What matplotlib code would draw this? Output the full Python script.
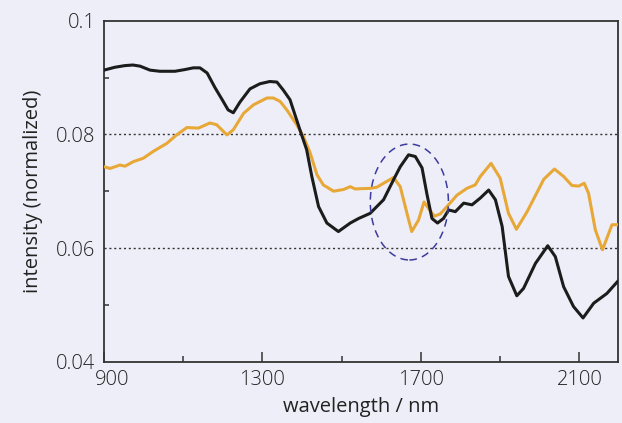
import numpy as np
import matplotlib
matplotlib.use('Agg')
import matplotlib.pyplot as plt
import matplotlib.transforms as mtransforms
from matplotlib.patches import Ellipse

# wavelength (nm) / normalized intensity
black_nm = [901, 928, 954, 974, 992, 1017, 1042, 1080, 1105, 1126, 1143, 1161,
            1181, 1199, 1214, 1227, 1244, 1269, 1294, 1319, 1337, 1353, 1370,
            1395, 1412, 1425, 1442, 1463, 1492, 1522, 1543, 1572, 1606, 1631,
            1648, 1669, 1686, 1703, 1715, 1728, 1742, 1757, 1770, 1787, 1808,
            1829, 1850, 1871, 1888, 1905, 1921, 1942, 1959, 1989, 2020, 2039,
            2060, 2085, 2109, 2136, 2169, 2196]
black_val = [0.0913, 0.0918, 0.0921, 0.0922, 0.0920, 0.0913, 0.0911, 0.0911,
             0.0914, 0.0917, 0.0917, 0.0908, 0.0882, 0.0861, 0.0843, 0.0838,
             0.0857, 0.0880, 0.0889, 0.0893, 0.0892, 0.0878, 0.0861, 0.0808,
             0.0773, 0.0726, 0.0673, 0.0644, 0.0629, 0.0644, 0.0652, 0.0661,
             0.0685, 0.0720, 0.0743, 0.0764, 0.0761, 0.0741, 0.0696, 0.0652,
             0.0644, 0.0652, 0.0667, 0.0664, 0.0679, 0.0676, 0.0688, 0.0702,
             0.0685, 0.0638, 0.0550, 0.0516, 0.0529, 0.0573, 0.0604, 0.0585,
             0.0532, 0.0497, 0.0477, 0.0503, 0.0520, 0.0541]

orange_nm = [901, 916, 941, 954, 975, 1000, 1025, 1059, 1084, 1110, 1139, 1168,
             1185, 1211, 1227, 1253, 1278, 1312, 1328, 1345, 1362, 1387, 1404,
             1421, 1438, 1454, 1480, 1505, 1522, 1534, 1572, 1589, 1606, 1631,
             1648, 1665, 1677, 1694, 1708, 1719, 1734, 1749, 1766, 1791, 1816,
             1837, 1850, 1877, 1900, 1921, 1941, 1968, 2010, 2037, 2060, 2081,
             2098, 2112, 2123, 2140, 2158, 2182, 2199]
orange_val = [0.0743, 0.0740, 0.0746, 0.0744, 0.0752, 0.0758, 0.0770, 0.0784,
              0.0799, 0.0812, 0.0811, 0.0820, 0.0817, 0.0799, 0.0808, 0.0837,
              0.0852, 0.0864, 0.0864, 0.0858, 0.0843, 0.0817, 0.0796, 0.0767,
              0.0729, 0.0711, 0.0700, 0.0703, 0.0708, 0.0704, 0.0705, 0.0707,
              0.0714, 0.0724, 0.0708, 0.0661, 0.0629, 0.0649, 0.0681, 0.0670,
              0.0656, 0.0660, 0.0673, 0.0693, 0.0705, 0.0711, 0.0726, 0.0749,
              0.0723, 0.0661, 0.0633, 0.0664, 0.0721, 0.0739, 0.0726, 0.0710,
              0.0709, 0.0714, 0.0696, 0.0632, 0.0597, 0.0641, 0.0641]

x_ticks = [900, 1300, 1700, 2100]
x_minor = [1100, 1500, 1900]
y_ticks = [0.04, 0.06, 0.08, 0.1]
y_labels = ['0.04', '0.06', '0.08', '0.1']
y_minor = [0.05, 0.07, 0.09]

bg = '#eeeef8'
ink = '#333333'
txt = '#222222'

plt.rcParams['font.family'] = ['Open Sans', 'DejaVu Sans']
plt.rcParams['font.weight'] = 'light'

fig = plt.figure(figsize=(6.22, 4.23), dpi=100, facecolor=bg)
ax = fig.add_axes([0.1666, 0.1449, 0.8275, 0.8062], facecolor=bg)

ax.plot(orange_nm, orange_val, color='#e8a838', lw=2.2, solid_joinstyle='round', zorder=3)
ax.plot(black_nm, black_val, color='#1c1c1c', lw=2.2, solid_joinstyle='round', zorder=4)

ax.add_patch(Ellipse((1671, 0.0681), 197, 0.0204, fill=False, edgecolor='#3c3c9c',
                     lw=1.1, linestyle=(0, (5, 3.5)), zorder=5))

ax.set_xlim(900, 2198)
ax.set_ylim(0.04, 0.1)
ax.set_xticks(x_ticks)
ax.set_xticks(x_minor, minor=True)
ax.set_yticks(y_ticks)
ax.set_yticklabels(y_labels)
ax.set_yticks(y_minor, minor=True)

for yv in [0.06, 0.08]:
    ax.axhline(yv, color=ink, lw=1.0, linestyle=(0, (1.5, 2.0)), zorder=2)

ax.tick_params(which='both', direction='in', colors=ink, labelcolor=txt, labelsize=14.5)
ax.tick_params(axis='x', which='major', length=7, width=1.1, pad=6)
ax.tick_params(axis='x', which='minor', length=4.5, width=1.1)
ax.tick_params(axis='y', which='major', length=0, pad=6)
ax.tick_params(axis='y', which='minor', length=3.5, width=1.1)

for s in ax.spines.values():
    s.set_color(ink)
    s.set_linewidth(1.3)

# the "900" label sits a little to the right of its tick
lab900 = ax.get_xticklabels()[0]
lab900.set_transform(lab900.get_transform() +
                     mtransforms.ScaledTranslation(8.5 / 100, 0, fig.dpi_scale_trans))

ax.set_xlabel('wavelength / nm', fontsize=14.5, color=txt, labelpad=5)
ax.set_ylabel('intensity (normalized)', fontsize=14.5, color=txt, labelpad=9)

fig.savefig('out.png', dpi=100, facecolor=bg)
